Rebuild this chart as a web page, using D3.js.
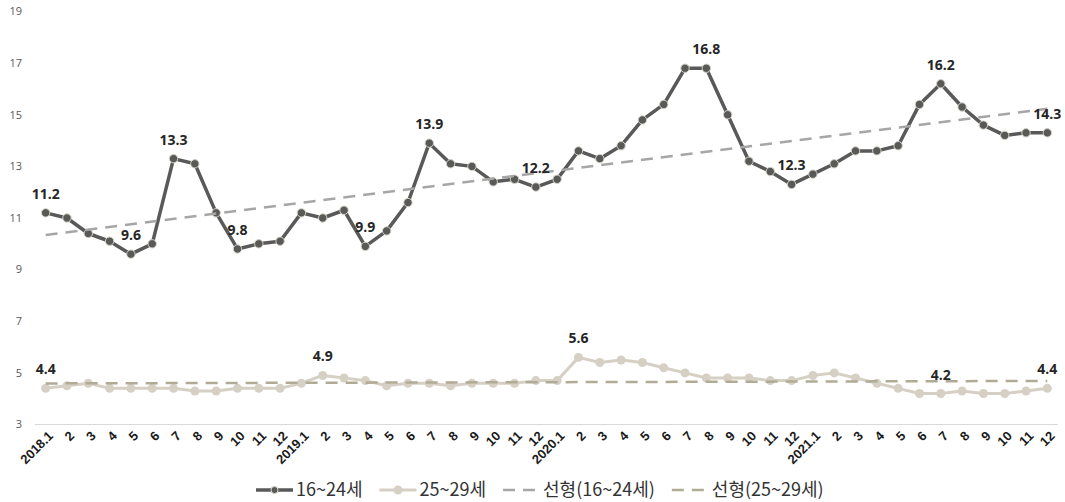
<!DOCTYPE html>
<html>
<head>
<meta charset="utf-8">
<script src="https://cdn.jsdelivr.net/npm/d3@7"></script>
<style>
  html, body { margin: 0; padding: 0; background: #fff; }
  svg { display: block; }
  .y-label { font-family: "Open Sans", sans-serif; font-size: 11px; fill: #595959; }
  .x-label { font-family: "Liberation Sans", Arial, sans-serif; font-size: 13px; font-weight: bold; fill: #1a1a1a; }
  .data-label { font-family: "Open Sans", sans-serif; font-size: 14px; font-weight: bold; fill: #262626; }
  .legend-text { font-family: "Noto Sans CJK KR", sans-serif; font-size: 18px; fill: #333; }
</style>
</head>
<body>
<svg id="chart"></svg>
<script>
// months 2018.1 ~ 2021.12
var tickLabels = [
  "2018.1","2","3","4","5","6","7","8","9","10","11","12",
  "2019.1","2","3","4","5","6","7","8","9","10","11","12",
  "2020.1","2","3","4","5","6","7","8","9","10","11","12",
  "2021.1","2","3","4","5","6","7","8","9","10","11","12"
];

// 16~24세
var youth = [
  11.2, 11.0, 10.4, 10.1, 9.6, 10.0, 13.3, 13.1, 11.2, 9.8, 10.0, 10.1,
  11.2, 11.0, 11.3, 9.9, 10.5, 11.6, 13.9, 13.1, 13.0, 12.4, 12.5, 12.2,
  12.5, 13.6, 13.3, 13.8, 14.8, 15.4, 16.8, 16.8, 15.0, 13.2, 12.8, 12.3,
  12.7, 13.1, 13.6, 13.6, 13.8, 15.4, 16.2, 15.3, 14.6, 14.2, 14.3, 14.3
];

// 25~29세
var adult = [
  4.4, 4.5, 4.6, 4.4, 4.4, 4.4, 4.4, 4.3, 4.3, 4.4, 4.4, 4.4,
  4.6, 4.9, 4.8, 4.7, 4.5, 4.6, 4.6, 4.5, 4.6, 4.6, 4.6, 4.7,
  4.7, 5.6, 5.4, 5.5, 5.4, 5.2, 5.0, 4.8, 4.8, 4.8, 4.7, 4.7,
  4.9, 5.0, 4.8, 4.6, 4.4, 4.2, 4.2, 4.3, 4.2, 4.2, 4.3, 4.4
];

// which points carry a value label
var youthLabelIdx = [0, 4, 6, 9, 15, 18, 23, 31, 35, 42, 47];
var adultLabelIdx = [0, 13, 25, 42, 47];

var yTicks = [3, 5, 7, 9, 11, 13, 15, 17, 19];

var legendNames = ["16~24세", "25~29세", "선형(16~24세)", "선형(25~29세)"];

(function() {
  var width = 1065, height = 502;
  var colYouth = "#595959", colAdult = "#d6d0c4",
    colTrendY = "#a6a6a6", colTrendA = "#b1aa95";

  var svg = d3.select("#chart").attr("width", width).attr("height", height);

  var x = d3.scaleBand().domain(d3.range(tickLabels.length)).range([35, 1058]);
  var cx = function(i) { return x(i) + x.bandwidth() / 2; };
  var y = d3.scaleLinear().domain([3, 19]).range([424.5, 11.5]);

  // least squares trend, same as the spreadsheet's linear trendline
  function trend(vals) {
    var n = vals.length, mx = (n - 1) / 2, my = d3.mean(vals);
    var sxy = d3.sum(vals, function(v, i) { return (i - mx) * (v - my); });
    var sxx = d3.sum(vals, function(v, i) { return (i - mx) * (i - mx); });
    var b = sxy / sxx, a = my - b * mx;
    return [[0, a], [n - 1, a + b * (n - 1)]];
  }

  // y labels
  svg.append("g").selectAll("text").data(yTicks).enter()
    .append("text")
      .attr("class", "y-label")
      .attr("x", 22)
      .attr("y", function(d) { return y(d); })
      .attr("dy", "0.35em")
      .attr("text-anchor", "end")
      .text(function(d) { return d; });

  // category axis
  svg.append("line")
    .attr("x1", 35).attr("x2", 1058)
    .attr("y1", y(3)).attr("y2", y(3))
    .attr("stroke", "#d9d9d9").attr("stroke-width", 1);

  svg.append("g").selectAll("text").data(tickLabels).enter()
    .append("text")
      .attr("class", "x-label")
      .attr("text-anchor", "end")
      .attr("transform", function(d, i) {
        return "translate(" + (cx(i) + 5) + "," + (y(3) + 9) + ") rotate(-45)";
      })
      .attr("dy", "0.35em")
      .text(function(d) { return d; });

  var line = d3.line()
    .x(function(d, i) { return cx(i); })
    .y(function(d) { return y(d); });

  var trendLine = d3.line()
    .x(function(d) { return cx(d[0]); })
    .y(function(d) { return y(d[1]); });

  // 25~29세
  svg.append("path")
    .attr("d", line(adult))
    .attr("fill", "none")
    .attr("stroke", colAdult)
    .attr("stroke-width", 3)
    .attr("stroke-linejoin", "round");

  svg.append("g").selectAll("circle").data(adult).enter()
    .append("circle")
      .attr("cx", function(d, i) { return cx(i); })
      .attr("cy", function(d) { return y(d); })
      .attr("r", 4.5)
      .attr("fill", colAdult);

  // trend lines
  svg.append("path")
    .attr("d", trendLine(trend(adult)))
    .attr("fill", "none")
    .attr("stroke", colTrendA)
    .attr("stroke-width", 2.5)
    .attr("stroke-dasharray", "12,8");

  // 16~24세
  svg.append("path")
    .attr("d", line(youth))
    .attr("fill", "none")
    .attr("stroke", colYouth)
    .attr("stroke-width", 3.5)
    .attr("stroke-linejoin", "round");

  svg.append("g").selectAll("circle").data(youth).enter()
    .append("circle")
      .attr("cx", function(d, i) { return cx(i); })
      .attr("cy", function(d) { return y(d); })
      .attr("r", 4.2)
      .attr("fill", colYouth)
      .attr("stroke", "#d8d3c6")
      .attr("stroke-width", 1);

  svg.append("path")
    .attr("d", trendLine(trend(youth)))
    .attr("fill", "none")
    .attr("stroke", colTrendY)
    .attr("stroke-width", 2.5)
    .attr("stroke-dasharray", "12,8");

  // value labels
  function addLabels(vals, idx) {
    svg.append("g").selectAll("text").data(idx).enter()
      .append("text")
        .attr("class", "data-label")
        .attr("x", function(i) { return cx(i); })
        .attr("y", function(i) { return y(vals[i]) - 14; })
        .attr("text-anchor", "middle")
        .text(function(i) { return vals[i].toFixed(1); });
  }
  addLabels(youth, youthLabelIdx);
  addLabels(adult, adultLabelIdx);

  // legend
  var legendStyles = [
    { color: colYouth, dash: null, marker: true, w: 3.5, r: 3.5, stroke: "#d8d3c6" },
    { color: colAdult, dash: null, marker: true, w: 3, r: 4.5, stroke: null },
    { color: colTrendY, dash: "12,8", marker: false, w: 2.5 },
    { color: colTrendA, dash: "12,8", marker: false, w: 2.5 }
  ];
  var legend = svg.append("g").attr("class", "legend");
  var lx = 256, ly = 490, symW = 37, gap = 17;
  legendNames.forEach(function(name, k) {
    var st = legendStyles[k];
    var g = legend.append("g").attr("transform", "translate(" + lx + "," + ly + ")");
    g.append("line")
      .attr("x1", 0).attr("x2", symW)
      .attr("stroke", st.color)
      .attr("stroke-width", st.w)
      .attr("stroke-dasharray", st.dash);
    if (st.marker) {
      g.append("circle")
        .attr("cx", symW / 2).attr("r", st.r)
        .attr("fill", st.color)
        .attr("stroke", st.stroke);
    }
    var t = g.append("text")
      .attr("class", "legend-text")
      .attr("x", symW + 3)
      .attr("dy", "0.36em")
      .text(name);
    lx += symW + 3 + t.node().getComputedTextLength() + gap;
  });
})();
</script>
</body>
</html>
